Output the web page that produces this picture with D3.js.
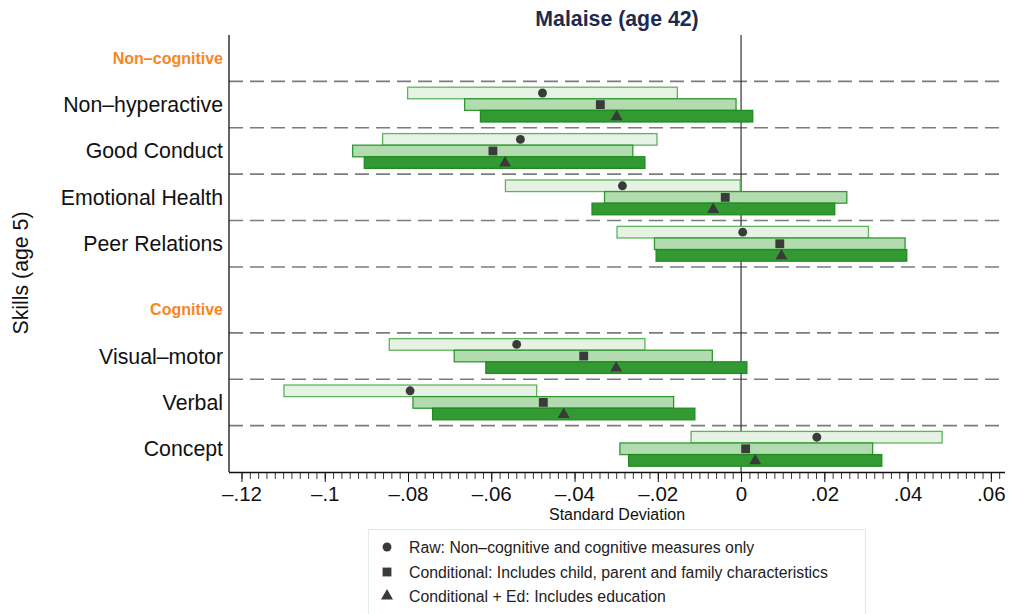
<!DOCTYPE html>
<html>
<head>
<meta charset="utf-8">
<script src="https://cdn.jsdelivr.net/npm/d3@7"></script>
<style>
  html, body { margin: 0; padding: 0; background: #fff; }
  svg { display: block; font-family: "Liberation Sans", Arial, Helvetica, sans-serif; }
</style>
</head>
<body>
<svg id="chart" width="1010" height="614"></svg>
<script>
// ---------------- data ----------------
const title = "Malaise (age 42)";
const groups = ["Non–cognitive", "Cognitive"];
const skills = ["Non–hyperactive", "Good Conduct", "Emotional Health", "Peer Relations",
                "Visual–motor", "Verbal", "Concept"];
const skillGroup = [0, 0, 0, 0, 1, 1, 1];

const seriesNames = [
  "Raw: Non–cognitive and cognitive measures only",
  "Conditional: Includes child, parent and family characteristics",
  "Conditional + Ed: Includes education"
];

const rawEst  = [-0.0477, -0.0530, -0.0285,  0.0004, -0.0539, -0.0795,  0.0182];
const rawLo   = [-0.0801, -0.0861, -0.0566, -0.0298, -0.0845, -0.1098, -0.0120];
const rawHi   = [-0.0153, -0.0202, -0.0002,  0.0306, -0.0231, -0.0491,  0.0483];

const condEst = [-0.0338, -0.0596, -0.0038,  0.0093, -0.0378, -0.0475,  0.0011];
const condLo  = [-0.0664, -0.0933, -0.0328, -0.0208, -0.0689, -0.0788, -0.0291];
const condHi  = [-0.0012, -0.0260,  0.0254,  0.0394, -0.0069, -0.0162,  0.0316];

const edEst   = [-0.0299, -0.0567, -0.0067,  0.0097, -0.0300, -0.0426,  0.0034];
const edLo    = [-0.0626, -0.0905, -0.0358, -0.0204, -0.0613, -0.0741, -0.0270];
const edHi    = [ 0.0028, -0.0231,  0.0225,  0.0398,  0.0014, -0.0111,  0.0338];

const xTicks = [-0.12, -0.10, -0.08, -0.06, -0.04, -0.02, 0, 0.02, 0.04, 0.06];
const xTickLabels = ["–.12", "–.1", "–.08", "–.06", "–.04", "–.02", "0", ".02", ".04", ".06"];
const xTitle = "Standard Deviation";
const yTitle = "Skills (age 5)";

// ---------------- layout ----------------
const svg = d3.select("#chart");
const plot = { left: 229, right: 1005, top: 35, bottom: 472 };
const groupGap = 0.42;

const rows = [];
let pos = 0;
groups.forEach((g, gi) => {
  if (gi > 0) pos += groupGap;
  rows.push({ type: "header", label: g, start: pos, gi });
  pos += 1;
  skills.forEach((s, si) => {
    if (skillGroup[si] === gi) {
      rows.push({ type: "skill", label: s, start: pos, si, gi });
      pos += 1;
    }
  });
  rows.push({ type: "end", start: pos, gi });
});
const totalUnits = pos;

const x = d3.scaleLinear().domain([-0.123, 0.0634]).range([plot.left, plot.right]);
const y = d3.scaleLinear().domain([0, totalUnits]).range([plot.top, plot.bottom]);

const series = [
  { est: rawEst,  lo: rawLo,  hi: rawHi,  fill: "#e6f2e4", stroke: "#5cb45c", shape: "circle" },
  { est: condEst, lo: condLo, hi: condHi, fill: "#b3dbb0", stroke: "#2e992e", shape: "square" },
  { est: edEst,   lo: edLo,   hi: edHi,   fill: "#339a33", stroke: "#1f8c1f", shape: "triangle" }
];
const markerColor = "#3a3a3a";

// ---------------- title ----------------
svg.append("text")
  .attr("x", (plot.left + plot.right) / 2).attr("y", 26)
  .attr("text-anchor", "middle")
  .attr("font-size", 21.3).attr("font-weight", "bold")
  .attr("fill", "#1e2b4f")
  .text(title);

// ---------------- gridlines (dashed) ----------------
const dashYs = [];
rows.forEach(r => { if (r.type === "skill") dashYs.push(r.start); });
rows.filter(r => r.type === "end" && r.gi < groups.length - 1).forEach(r => dashYs.push(r.start));

svg.append("g").selectAll("line").data(dashYs).join("line")
  .attr("x1", plot.left).attr("x2", plot.right)
  .attr("y1", d => y(d)).attr("y2", d => y(d))
  .attr("stroke", "#7c7c7c").attr("stroke-width", 1.6)
  .attr("stroke-dasharray", "14,7");

// zero line
svg.append("line")
  .attr("x1", x(0)).attr("x2", x(0))
  .attr("y1", plot.top).attr("y2", plot.bottom)
  .attr("stroke", "#333").attr("stroke-width", 1.2);

// ---------------- bars & markers ----------------
const skillRows = rows.filter(r => r.type === "skill");
const barH = 0.25;
const gBars = svg.append("g");
series.forEach((s, k) => {
  gBars.selectAll(null).data(skillRows).join("rect")
    .attr("x", d => x(s.lo[d.si]))
    .attr("width", d => x(s.hi[d.si]) - x(s.lo[d.si]))
    .attr("y", d => y(d.start + 0.125 + k * barH))
    .attr("height", y(barH) - y(0))
    .attr("fill", s.fill)
    .attr("stroke", s.stroke)
    .attr("stroke-width", 1.3);
});

const symSize = { circle: 62, square: 78, triangle: 62 };
const symType = { circle: d3.symbolCircle, square: d3.symbolSquare, triangle: d3.symbolTriangle };
series.forEach((s, k) => {
  gBars.selectAll(null).data(skillRows).join("path")
    .attr("transform", d => `translate(${x(s.est[d.si])},${y(d.start + 0.125 + (k + 0.5) * barH) + (s.shape === "triangle" ? 0.5 : 0)})`)
    .attr("d", d3.symbol().type(symType[s.shape]).size(symSize[s.shape]))
    .attr("fill", markerColor);
});

// ---------------- y labels ----------------
const gLab = svg.append("g");
rows.filter(r => r.type === "header").forEach(r => {
  gLab.append("text")
    .attr("x", plot.left - 6).attr("y", y(r.start + 0.5) + 5.5)
    .attr("text-anchor", "end")
    .attr("font-size", 16).attr("font-weight", "bold")
    .attr("fill", "#f7861e")
    .text(r.label);
});
skillRows.forEach(r => {
  gLab.append("text")
    .attr("x", plot.left - 6).attr("y", y(r.start + 0.5) + 7.5)
    .attr("text-anchor", "end")
    .attr("font-size", 21.3)
    .attr("fill", "#111")
    .text(r.label);
});

svg.append("text")
  .attr("transform", "translate(28,273) rotate(-90)")
  .attr("text-anchor", "middle")
  .attr("font-size", 21.3)
  .attr("fill", "#111")
  .text(yTitle);

// ---------------- axes ----------------
svg.append("line")
  .attr("x1", plot.left).attr("x2", plot.left)
  .attr("y1", plot.top).attr("y2", plot.bottom)
  .attr("stroke", "#111").attr("stroke-width", 1.3);

const minorTicks = d3.range(-120, 63, 2).map(v => v / 1000);
const xMinor = d3.axisBottom(x).tickValues(minorTicks).tickSize(7).tickFormat("");
const gMinor = svg.append("g").attr("transform", `translate(0,${plot.bottom})`).call(xMinor);
gMinor.select(".domain").remove();
gMinor.selectAll("line").attr("stroke", "#222").attr("stroke-width", 0.9);

const xAxis = d3.axisBottom(x).tickValues(xTicks).tickSize(10).tickPadding(4)
  .tickFormat((d, i) => xTickLabels[i]);
const gx = svg.append("g").attr("transform", `translate(0,${plot.bottom})`).call(xAxis);
gx.select(".domain").attr("d", `M${plot.left},0.5H${plot.right}`).attr("stroke", "#111").attr("stroke-width", 1.3);
gx.selectAll(".tick line").attr("stroke", "#111").attr("stroke-width", 1);
gx.selectAll(".tick text")
  .attr("font-size", 20.5).attr("fill", "#111")
  .attr("font-family", "'Liberation Sans', Arial, sans-serif");

svg.append("text")
  .attr("x", (plot.left + plot.right) / 2).attr("y", 520)
  .attr("text-anchor", "middle")
  .attr("font-size", 16).attr("fill", "#111")
  .text(xTitle);

// ---------------- legend ----------------
const lg = svg.append("g");
lg.append("rect")
  .attr("x", 368.5).attr("y", 529.5).attr("width", 497).attr("height", 100)
  .attr("fill", "#fff").attr("stroke", "#e1eaec").attr("stroke-width", 1.2);
const legendYs = [547, 572, 596];
series.forEach((s, k) => {
  lg.append("path")
    .attr("transform", `translate(387,${legendYs[k]})`)
    .attr("d", d3.symbol().type(symType[s.shape]).size(symSize[s.shape]))
    .attr("fill", markerColor);
  lg.append("text")
    .attr("x", 409).attr("y", legendYs[k] + 5.5)
    .attr("font-size", 15.8).attr("fill", "#222")
    .text(seriesNames[k]);
});
</script>
</body>
</html>
